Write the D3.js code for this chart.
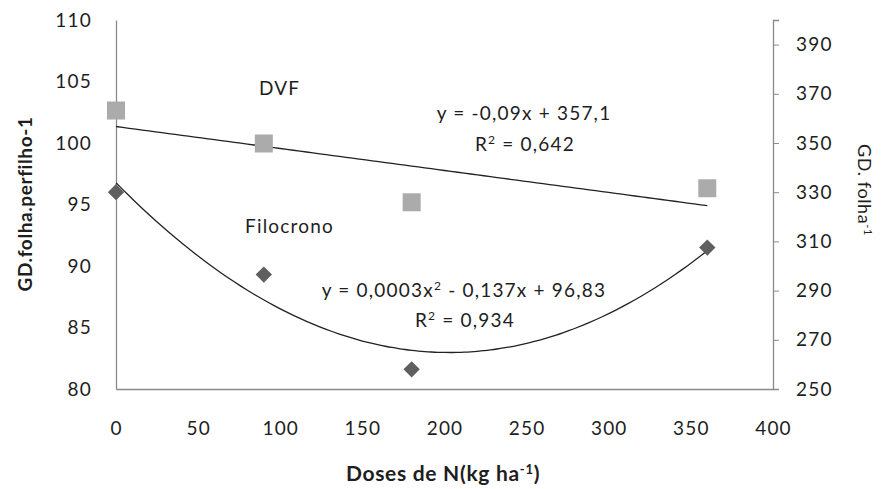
<!DOCTYPE html>
<html>
<head>
<meta charset="utf-8">
<script src="https://cdn.jsdelivr.net/npm/d3@7"></script>
<style>
  body { margin: 0; background: #fff; }
  text { font-family: Lato, "Open Sans", sans-serif; fill: #1e1e1e; }
</style>
</head>
<body>
<svg id="chart" width="881" height="489"></svg>
<script>
// doses de N (kg/ha)
const doses = [0, 90, 180, 360];
// Filocrono, eixo esquerdo (GD.folha.perfilho-1)
const filocrono = [96.0, 89.3, 81.6, 91.5];
// DVF, eixo direito (GD. folha-1)
const dvf = [363.2, 349.8, 325.9, 331.6];

const xTicks = [0, 50, 100, 150, 200, 250, 300, 350, 400];
const yLeftTicks = [80, 85, 90, 95, 100, 105, 110];
const yRightTicks = [250, 270, 290, 310, 330, 350, 370, 390];

let svg = d3.select("#chart");
let pLeft = 116, pRight = 773, pTop = 20, pBottom = 389;
let fs = "19px", ls = "1.2px";

let x = d3.scaleLinear().domain([0, 400]).range([pLeft, pRight]);
let yL = d3.scaleLinear().domain([80, 110]).range([pBottom, pTop]);
let yR = d3.scaleLinear().domain([250, 400]).range([pBottom, pTop]);

let axisColor = "#8a8a8a";

// axes
svg.append("g").attr("transform", "translate(" + pLeft + ",0)")
    .call(d3.axisLeft(yL).tickValues(yLeftTicks).tickSize(0).tickPadding(24))
    .call(g => g.select(".domain").attr("stroke", axisColor).attr("stroke-width", 1.3));

svg.append("g").attr("transform", "translate(" + pRight + ",0)")
    .call(d3.axisRight(yR).tickValues(yRightTicks).tickSize(6).tickPadding(17))
    .call(g => g.select(".domain").attr("stroke", axisColor).attr("stroke-width", 1.3))
    .call(g => g.selectAll(".tick line").attr("stroke", axisColor));

svg.append("g").attr("transform", "translate(0," + pBottom + ")")
    .call(d3.axisBottom(x).tickValues(xTicks).tickSize(0).tickPadding(33))
    .call(g => g.select(".domain").attr("stroke", axisColor).attr("stroke-width", 1.3));

svg.selectAll(".tick text")
   .style("font-size", fs)
   .style("letter-spacing", ls)
   .attr("fill", "#1e1e1e")
   .style("font-family", "Lato, sans-serif");

// least squares fits (trendlines)
function fitLinear(xs, ys) {
    let n = xs.length, mx = d3.mean(xs), my = d3.mean(ys);
    let sxy = 0, sxx = 0;
    for (let i = 0; i < n; i++) { sxy += (xs[i]-mx)*(ys[i]-my); sxx += (xs[i]-mx)*(xs[i]-mx); }
    let b = sxy / sxx;
    return v => my + b * (v - mx);
}
function fitQuad(xs, ys) {
    let s = [0,0,0,0,0], t = [0,0,0];
    for (let i = 0; i < xs.length; i++) {
        for (let k = 0; k < 5; k++) s[k] += Math.pow(xs[i], k);
        for (let k = 0; k < 3; k++) t[k] += ys[i] * Math.pow(xs[i], k);
    }
    let A = [[s[0],s[1],s[2],t[0]],[s[1],s[2],s[3],t[1]],[s[2],s[3],s[4],t[2]]];
    for (let i = 0; i < 3; i++) {
        for (let j = i+1; j < 3; j++) {
            let f = A[j][i] / A[i][i];
            for (let k = i; k < 4; k++) A[j][k] -= f * A[i][k];
        }
    }
    let c = [0,0,0];
    for (let i = 2; i >= 0; i--) {
        let sum = A[i][3];
        for (let k = i+1; k < 3; k++) sum -= A[i][k]*c[k];
        c[i] = sum / A[i][i];
    }
    return v => c[0] + c[1]*v + c[2]*v*v;
}

let linF = fitLinear(doses, dvf);
let quadF = fitQuad(doses, filocrono);

let xs = d3.range(0, 361, 4);
svg.append("path")
    .attr("d", d3.line()(xs.map(v => [x(v), yR(linF(v))])))
    .attr("fill", "none").attr("stroke", "#222").attr("stroke-width", 1.3);
svg.append("path")
    .attr("d", d3.line().curve(d3.curveMonotoneX)(xs.map(v => [x(v), yL(quadF(v))])))
    .attr("fill", "none").attr("stroke", "#222").attr("stroke-width", 1.3);

// markers
svg.selectAll("rect.dvf").data(doses).enter().append("rect")
    .attr("class", "dvf")
    .attr("x", (d, i) => x(d) - 9).attr("y", (d, i) => yR(dvf[i]) - 9)
    .attr("width", 18).attr("height", 18)
    .attr("fill", "#ababab");

svg.selectAll("path.filo").data(doses).enter().append("path")
    .attr("class", "filo")
    .attr("d", d3.symbol().type(d3.symbolDiamond2).size(170))
    .attr("transform", (d, i) => "translate(" + x(d) + "," + yL(filocrono[i]) + ")")
    .attr("fill", "#5f5f5f");

// labels
function label(px, py, anchor) {
    return svg.append("text").attr("x", px).attr("y", py)
        .attr("text-anchor", anchor || "start")
        .style("font-size", fs).style("letter-spacing", ls);
}
function sup(el, t, size, up) {
    el.append("tspan").attr("dy", -up).style("font-size", size).text(t);
    return up;
}
label(259, 95).text("DVF");
label(245, 233).text("Filocrono");

label(524, 120, "middle").text("y = -0,09x + 357,1");
let r1 = label(525, 151, "middle");
r1.append("tspan").text("R");
sup(r1, "2", "12px", 7);
r1.append("tspan").attr("dy", 7).text(" = 0,642");

let e2 = label(464, 297, "middle");
e2.append("tspan").text("y = 0,0003x");
sup(e2, "2", "12px", 7);
e2.append("tspan").attr("dy", 7).text(" - 0,137x + 96,83");
let r2 = label(465, 327, "middle");
r2.append("tspan").text("R");
sup(r2, "2", "12px", 7);
r2.append("tspan").attr("dy", 7).text(" = 0,934");

// axis titles
svg.append("text")
    .attr("transform", "translate(32,204) rotate(-90)")
    .attr("text-anchor", "middle").style("font-size", fs).style("font-weight", "bold")
    .style("letter-spacing", "0.6px")
    .text("GD.folha.perfilho-1");

let rt = svg.append("text")
    .attr("transform", "translate(858,190) rotate(90)")
    .attr("text-anchor", "middle").style("font-size", "18px").style("letter-spacing", "0.6px");
rt.append("tspan").text("GD. folha");
rt.append("tspan").attr("dy", -6).style("font-size", "11px").text("-1");

let xt = svg.append("text").attr("x", 443).attr("y", 481)
    .attr("text-anchor", "middle").style("font-size", "21px").style("font-weight", "bold")
    .style("letter-spacing", "0.7px");
xt.append("tspan").text("Doses de N(kg ha");
xt.append("tspan").attr("dy", -7).style("font-size", "13px").text("-1");
xt.append("tspan").attr("dy", 7).text(")");
</script>
</body>
</html>
